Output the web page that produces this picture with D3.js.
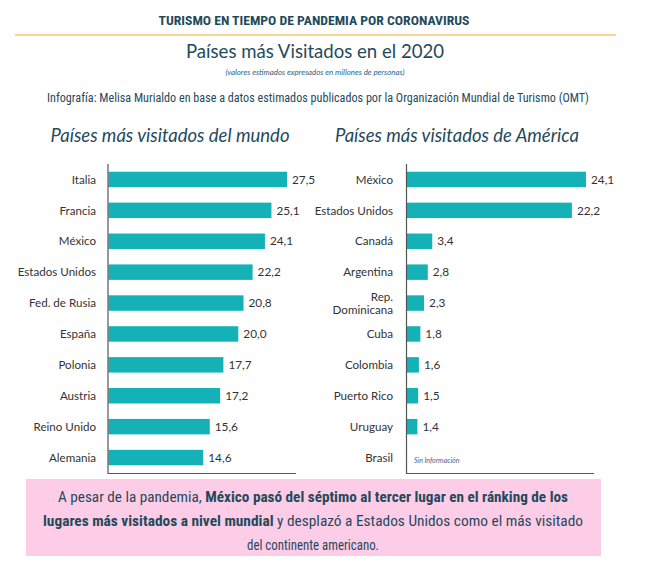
<!DOCTYPE html>
<html lang="es">
  <head>
    <meta charset="UTF-8" />
    <title>Países más Visitados en el 2020</title>
    <script src="https://d3js.org/d3.v7.min.js"></script>
    <style>
      body { margin: 0; background: #fff; }
      svg { display: block; }
      .lbl { font-family: Lato, sans-serif; font-size: 11.6px; fill: #333; }
      .val { font-family: Lato, sans-serif; font-size: 11.8px; fill: #333; }
      .bar { fill: #14b2b6; }
      .eje { stroke: #555; stroke-width: 1.2; fill: none; }
      .cond { font-family: "Roboto Condensed", "Liberation Sans Narrow", Roboto, sans-serif; }
    </style>
  </head>
  <body>
    <svg width="651" height="567"></svg>
    <script>
      // datos: millones de visitantes (estimados 2020)
      const mundoPaises = ["Italia", "Francia", "México", "Estados Unidos", "Fed. de Rusia",
        "España", "Polonia", "Austria", "Reino Unido", "Alemania"];
      const mundoValores = [27.5, 25.1, 24.1, 22.2, 20.8, 20.0, 17.7, 17.2, 15.6, 14.6];

      const americaPaises = ["México", "Estados Unidos", "Canadá", "Argentina", "Rep. Dominicana",
        "Cuba", "Colombia", "Puerto Rico", "Uruguay", "Brasil"];
      const americaValores = [24.1, 22.2, 3.4, 2.8, 2.3, 1.8, 1.6, 1.5, 1.4, null];

      const titulos = ["Países más visitados del mundo", "Países más visitados de América"];

      const oscuro = "#1f4a5c";
      const es = d3.formatLocale({ decimal: ",", thousands: ".", grouping: [3], currency: ["", ""] });
      const fmt = es.format(".1f");

      const svg = d3.select("svg");

      // cabecera
      svg.append("text")
        .attr("class", "cond")
        .attr("x", 314).attr("y", 25)
        .attr("text-anchor", "middle")
        .attr("textLength", 311).attr("lengthAdjust", "spacingAndGlyphs")
        .style("font-weight", 700)
        .style("font-size", "12.5px").style("fill", oscuro)
        .text("TURISMO EN TIEMPO DE PANDEMIA POR CORONAVIRUS");

      svg.append("line")
        .attr("x1", 15).attr("x2", 616).attr("y1", 35).attr("y2", 35)
        .style("stroke", "#f6c46e").style("stroke-width", 1.3);

      svg.append("text")
        .attr("x", 315).attr("y", 58)
        .attr("text-anchor", "middle")
        .attr("textLength", 258).attr("lengthAdjust", "spacingAndGlyphs")
        .style("font-family", "Lato, sans-serif").style("font-size", "19px").style("fill", oscuro)
        .text("Países más Visitados en el 2020");

      svg.append("text")
        .attr("x", 315).attr("y", 75)
        .attr("text-anchor", "middle")
        .attr("textLength", 179).attr("lengthAdjust", "spacingAndGlyphs")
        .style("font-family", "Lato, sans-serif").style("font-style", "italic")
        .style("font-size", "7px").style("fill", "#2d5f86")
        .text("(valores estimados expresados en millones de personas)");

      svg.append("text")
        .attr("class", "cond")
        .attr("x", 318).attr("y", 102)
        .attr("text-anchor", "middle")
        .attr("textLength", 542).attr("lengthAdjust", "spacingAndGlyphs")
        .style("font-size", "12.5px").style("fill", oscuro)
        .text("Infografía: Melisa Murialdo en base a datos estimados publicados por la Organización Mundial de Turismo (OMT)");

      // un panel de barras horizontales
      function panel(paises, valores, cfg) {
        const g = svg.append("g");
        const y = d3.scaleBand().domain(paises).range([164, 473])
          .paddingInner(0.5).paddingOuter(0.25);
        const x = d3.scaleLinear().domain([0, d3.max(valores)]).range([cfg.x0, cfg.x1]);

        g.append("text")
          .attr("x", cfg.tx).attr("y", 142)
          .attr("text-anchor", "middle")
          .attr("textLength", cfg.tw).attr("lengthAdjust", "spacingAndGlyphs")
          .style("font-family", "Lato, sans-serif").style("font-style", "italic")
          .style("font-size", "19px").style("fill", oscuro)
          .text(cfg.titulo);

        const filas = paises.map((p, i) => ({ pais: p, valor: valores[i] }));

        g.selectAll("rect.bar")
          .data(filas.filter(d => d.valor != null))
          .join("rect")
          .attr("class", "bar")
          .attr("x", x(0))
          .attr("y", d => y(d.pais))
          .attr("height", y.bandwidth())
          .attr("width", d => x(d.valor) - x(0));

        g.selectAll("text.val")
          .data(filas.filter(d => d.valor != null))
          .join("text")
          .attr("class", "val")
          .attr("x", d => x(d.valor) + 5)
          .attr("y", d => y(d.pais) + y.bandwidth() / 2)
          .attr("dy", "0.36em")
          .text(d => fmt(d.valor));

        const lbl = g.selectAll("text.lbl")
          .data(filas)
          .join("text")
          .attr("class", "lbl")
          .attr("text-anchor", "end")
          .attr("x", cfg.lx)
          .attr("y", d => y(d.pais) + y.bandwidth() / 2);

        lbl.each(function (d) {
          const t = d3.select(this);
          if (d.pais === "Rep. Dominicana") {
            t.append("tspan").attr("x", cfg.lx).attr("dy", "-0.2em").text("Rep.");
            t.append("tspan").attr("x", cfg.lx).attr("dy", "1.12em").text("Dominicana");
          } else {
            t.attr("dy", "0.36em").text(d.pais);
          }
        });

        // sin dato
        filas.filter(d => d.valor == null).forEach(d => {
          g.append("text")
            .attr("x", x(0) + 7)
            .attr("y", y(d.pais) + y.bandwidth() / 2 + 5)
            .style("font-family", "Lato, sans-serif").style("font-style", "italic")
            .style("font-size", "7px").style("fill", "#3a6a90")
            .text("Sin Información");
        });

        // ejes
        g.append("path")
          .attr("class", "eje")
          .attr("d", `M${x(0) - 0.5},164V473.5H${cfg.ejeFin}`);
      }

      panel(mundoPaises, mundoValores, {
        titulo: titulos[0], tx: 170, tw: 239,
        x0: 108.5, x1: 287, lx: 96, ejeFin: 296
      });
      panel(americaPaises, americaValores, {
        titulo: titulos[1], tx: 457, tw: 244,
        x0: 407, x1: 586, lx: 393, ejeFin: 594
      });

      // recuadro de conclusión
      svg.append("rect")
        .attr("x", 26).attr("y", 479).attr("width", 575).attr("height", 77)
        .style("fill", "#fdcce6");

      const nota = [
        { w: 510, partes: [["A pesar de la pandemia, ", 400], ["México pasó del séptimo al tercer lugar en el ránking de los", 700]] },
        { w: 540, partes: [["lugares más visitados a nivel mundial", 700], [" y desplazó a Estados Unidos como el más visitado", 400]] },
        { w: 132, partes: [["del continente americano.", 400]] }
      ];
      const yNota = [502, 526, 550];

      nota.forEach((linea, i) => {
        const t = svg.append("text")
          .attr("class", "cond")
          .attr("x", 313).attr("y", yNota[i])
          .attr("text-anchor", "middle")
          .attr("textLength", linea.w).attr("lengthAdjust", "spacingAndGlyphs")
          .style("font-size", "14.5px").style("fill", oscuro);
        linea.partes.forEach(p => {
          t.append("tspan").style("font-weight", p[1]).text(p[0]);
        });
      });
    </script>
  </body>
</html>
